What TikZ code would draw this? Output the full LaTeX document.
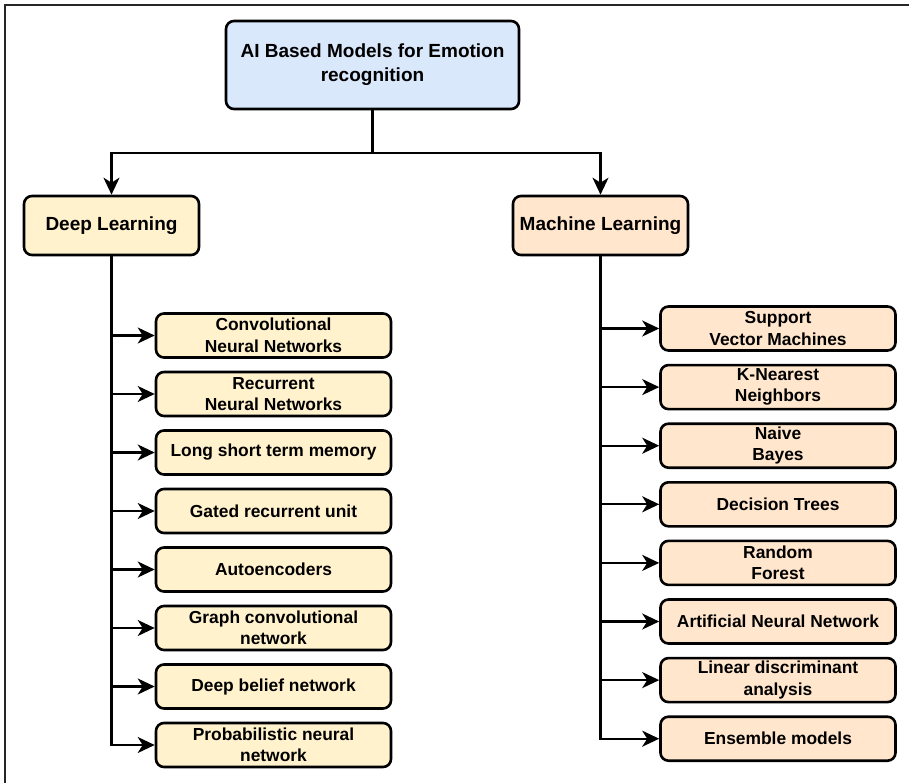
\documentclass[tikz,border=0pt]{standalone}
\usepackage{fontspec}
\setmainfont{Liberation Sans}
\usetikzlibrary{arrows.meta}

\definecolor{cxazul}{HTML}{DAE8FC}
\definecolor{cxamarelo}{HTML}{FFF2CC}
\definecolor{cxlaranja}{HTML}{FFE6CC}
\tikzset{
  caixa/.style={draw=black,line width=2.6pt,rounded corners=8pt,align=center,inner sep=0pt},
  raiz/.style={caixa,fill=cxazul,minimum width=293pt,minimum height=88pt,
    font=\bfseries\fontsize{19}{24}\selectfont},
  ramo/.style={caixa,minimum width=175pt,minimum height=59pt,font=\bfseries\fontsize{19}{24}\selectfont},
  folha/.style={caixa,minimum width=235pt,minimum height=44pt,font=\bfseries\fontsize{17.4}{21.5}\selectfont},
  liga/.style={line width=2.2pt},
  seta/.style={liga,-{Stealth[length=17pt,width=16pt,inset=5pt]}},
  moldura/.style={line width=1.8pt,draw=black!85},
}

\begin{document}
\begin{tikzpicture}[x=1pt,y=-1pt]
  \useasboundingbox (0,0) rectangle (909,783);
  \draw[moldura] (5,783) -- (5,5) -- (909,5);
  \node[raiz] (root) at (372.5,65) {AI Based Models for Emotion\\recognition};
  \node[ramo,fill=cxamarelo] (dl) at (111.5,225.5) {Deep Learning};
  \node[ramo,fill=cxlaranja] (ml) at (600.5,225.5) {Machine Learning};
  \draw[seta] (root.south) -- ++(0,43) -| (dl.north);
  \draw[seta] (root.south) -- ++(0,43) -| (ml.north);
  \foreach \i/\t in {1/{Convolutional\\Neural Networks}, 2/{Recurrent\\Neural Networks},
      3/{Long short term memory}, 4/{Gated recurrent unit}, 5/{Autoencoders},
      6/{Graph convolutional\\network}, 7/{Deep belief network}, 8/{Probabilistic neural\\network}} {
    \node[folha,fill=cxamarelo] (dl\i) at (273.5,{277+58.5*\i}) {\t};
    \draw[seta] (dl.south) |- (dl\i.west);}
  \foreach \i/\t in {1/{Support\\Vector Machines}, 2/{K-Nearest\\Neighbors}, 3/{Naive\\Bayes},
      4/{Decision Trees}, 5/{Random\\Forest}, 6/{Artificial Neural Network},
      7/{Linear discriminant\\analysis}, 8/{Ensemble models}} {
    \node[folha,fill=cxlaranja] (ml\i) at (778,{269.9+58.6*\i}) {\t};
    \draw[seta] (ml.south) |- (ml\i.west);}
\end{tikzpicture}
\end{document}
